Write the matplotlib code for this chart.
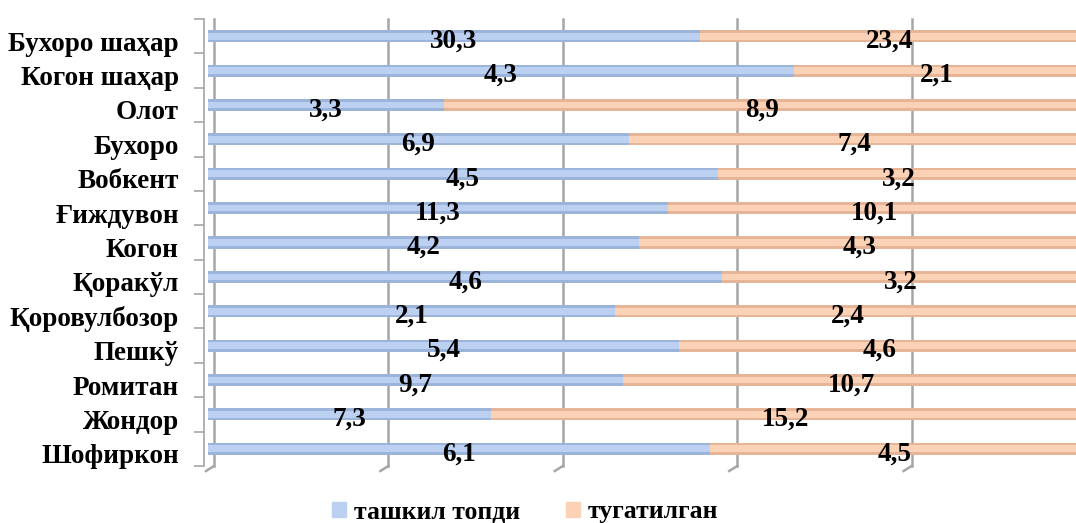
import matplotlib
matplotlib.use("Agg")
import matplotlib.pyplot as plt
import matplotlib.transforms as mtransforms
from matplotlib.patches import Patch
import numpy as np

categories = ["Бухоро шаҳар", "Когон шаҳар", "Олот", "Бухоро", "Вобкент", "Ғиждувон",
              "Когон", "Қоракўл", "Қоровулбозор", "Пешкў", "Ромитан", "Жондор", "Шофиркон"]
created = [30.3, 4.3, 3.3, 6.9, 4.5, 11.3, 4.2, 4.6, 2.1, 5.4, 9.7, 7.3, 6.1]
closed = [23.4, 2.1, 8.9, 7.4, 3.2, 10.1, 4.3, 3.2, 2.4, 4.6, 10.7, 15.2, 4.5]
series_names = ["ташкил топди", "тугатилган"]
grid_x = [0.0, 0.2, 0.4, 0.6, 0.8]

plt.rcParams['font.family'] = ['Liberation Serif', 'DejaVu Serif']
plt.rcParams['font.weight'] = 'bold'

fig = plt.figure(figsize=(10.76, 5.23), dpi=100)
ax = fig.add_axes([208/1076, 1 - 466/523, 872/1076, 447/523])

# spines first (set_position resets ticks)
for s in ['top', 'right', 'bottom']:
    ax.spines[s].set_visible(False)
ax.spines['left'].set_position(('outward', 3))
ax.spines['left'].set_color('#A6A6A6')
ax.spines['left'].set_linewidth(1.2)

a = np.array(created)
b = np.array(closed)
tot = a + b
pa = a / tot
pb = b / tot
y = np.arange(len(categories))

blue_dark, blue_light = "#9DB4DA", "#BCD0F2"
or_dark, or_light = "#E6B496", "#FBD2B5"
h = 0.35
ax.barh(y, pa, height=h, color=blue_dark, zorder=3)
ax.barh(y, pa, height=h * 0.55, color=blue_light, zorder=4)
ax.barh(y, pb, left=pa, height=h, color=or_dark, zorder=3)
ax.barh(y, pb, left=pa, height=h * 0.55, color=or_light, zorder=4)

off = mtransforms.ScaledTranslation(0, -5/100, fig.dpi_scale_trans)
for i in range(len(categories)):
    ax.text(pa[i] / 2, y[i], f"{a[i]:.1f}".replace('.', ','), ha='center', va='center',
            fontsize=19.5, fontweight='bold', transform=ax.transData + off, zorder=6)
    ax.text(pa[i] + pb[i] / 2, y[i], f"{b[i]:.1f}".replace('.', ','), ha='center', va='center',
            fontsize=19.5, fontweight='bold', transform=ax.transData + off, zorder=6)

ax.set_xlim(0, 1)
ax.set_ylim(len(categories) - 0.5, -0.5)
ax.set_yticks(np.arange(len(categories) + 1) - 0.5, minor=True)
ax.tick_params(axis='y', which='minor', length=7, width=1.2, color='#A6A6A6', direction='out')
ax.set_yticks(y)
ax.tick_params(axis='y', which='major', length=0, pad=18, labelsize=19.5)
ax.set_yticklabels(categories, fontsize=19.5, fontweight='bold')
loff = mtransforms.ScaledTranslation(0, -5/100, fig.dpi_scale_trans)
for lab in ax.get_yticklabels():
    lab.set_transform(lab.get_transform() + loff)

# gridlines with slight depth offset, plus floor diagonals
gshift = mtransforms.ScaledTranslation(6/100, 0, fig.dpi_scale_trans)
for gx in grid_x:
    ax.plot([gx, gx], [0, 1], color='#A6A6A6', lw=1.8, zorder=1,
            transform=ax.get_xaxis_transform() + gshift, clip_on=False)
ax.set_xticks(grid_x)
ax.tick_params(axis='x', length=0, labelbottom=False)
for gx in grid_x:
    seg_t = ax.get_xaxis_transform()
    p0 = mtransforms.ScaledTranslation(-2/100, -5/100, fig.dpi_scale_trans)
    p1 = mtransforms.ScaledTranslation(6/100, 0, fig.dpi_scale_trans)
    x0, y0 = (seg_t + p0).transform((gx, 0))
    x1, y1 = (seg_t + p1).transform((gx, 0))
    fig.add_artist(plt.Line2D([x0, x1], [y0, y1], transform=None, color='#A6A6A6', lw=1.8))

handles = [Patch(color=blue_light), Patch(color=or_light)]
fig.legend(handles, series_names, loc='lower center', bbox_to_anchor=(0.488, -0.045), ncol=2,
           frameon=False, prop={'weight': 'bold', 'size': 18.5}, handlelength=0.55,
           handleheight=0.55, handletextpad=0.3, columnspacing=1.8)

fig.savefig("out.png", dpi=100)
